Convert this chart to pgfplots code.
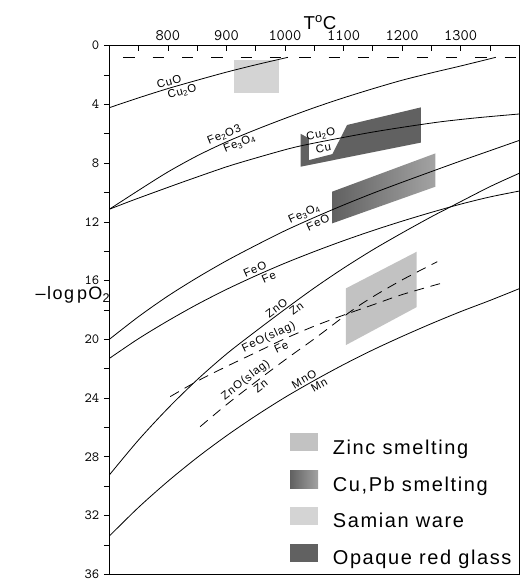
\documentclass[border=0pt]{standalone}
\usepackage{fontspec}
\newfontfamily\lsf[LetterSpace=8]{Liberation Sans}
\usepackage{pgfplots}
\pgfplotsset{compat=1.18}
\newcommand{\labf}{\lsf\fontsize{8.5}{9}\selectfont}
\begin{document}
\begin{tikzpicture}
\useasboundingbox (-82pt,-4.3pt) rectangle (308pt,430.8pt);
\begin{axis}[
  at={(0,0)}, anchor=south west,
  scale only axis, width=307.5pt, height=396.5pt,
  xmin=700, xmax=1400, ymin=0, ymax=36, y dir=reverse,
  clip=false,
  xtick={800,900,...,1300}, minor xtick={750,850,...,1350},
  ytick={0,4,...,36}, minor ytick={2,6,...,34},
  xtick pos=right, xticklabel pos=right,
  ytick pos=left,
  xtick align=inside, ytick align=outside,
  major tick length=4pt, minor tick length=4pt,
  tick style={black, line width=0.5pt},
  /pgf/number format/assume math mode=true,
  /pgf/number format/set thousands separator={},
  xticklabel style={font=\ttfamily\fontsize{12}{14}\selectfont},
  yticklabel style={font=\ttfamily\fontsize{10.5}{12}\selectfont},
  axis line style={line width=0.6pt},
  legend style={at={(axis description cs:0.4407,0.267)}, anchor=north west,
    draw=none, fill=none, font=\lsf\fontsize{15}{18}\selectfont,
    row sep=8.2pt, inner sep=0pt,
    nodes={inner sep=0pt, text height=11pt, text depth=4pt},
    /tikz/every odd column/.append style={column sep=11pt}},
  legend cell align=left,
  legend image code/.code={\draw[#1, draw=none] (0pt,-1.5pt) rectangle (21pt,12pt);},
]
% regions
\addplot[draw=none, fill=black!24] coordinates {(1104,16.53) (1225,14.03) (1225,17.8) (1104,20.39)} -- cycle;
\addlegendentry{Zinc smelting}
\addplot[draw=none, left color=black!62, right color=black!36] coordinates {(1080.6,9.94) (1257,7.33) (1257,9.6) (1080.6,12.1)} -- cycle;
\addlegendentry{Cu,Pb smelting}
\addplot[draw=none, fill=black!17] coordinates {(913,0.95) (989,0.95) (989,3.2) (913,3.2)} -- cycle;
\addlegendentry{Samian ware}
\addplot[draw=none, fill=black!62] coordinates {(1026.5,6.0) (1041,6.3) (1041,7.79) (1081,7.38) (1106,5.4) (1232,4.2) (1232,6.6) (1026.5,8.24)} -- cycle;
\addlegendentry{Opaque red glass}

% reaction lines
\addplot[black, line width=0.6pt, dash pattern=on 8.5pt off 13.5pt, forget plot] coordinates {(724,0.79) (1400,0.79)};
\addplot[black, line width=0.6pt, smooth, forget plot] coordinates {(700,4.22) (750,3.55) (800,2.92) (850,2.35) (900,1.8) (950,1.3) (1005,0.79)};
\addplot[black, line width=0.6pt, smooth, forget plot] coordinates {(700,11.14) (750,9.85) (800,8.6) (850,7.5) (900,6.55) (950,5.72) (1000,4.95) (1050,4.22) (1100,3.55) (1150,2.93) (1200,2.35) (1250,1.85) (1300,1.38) (1360,0.79)};
\addplot[black, line width=0.6pt, smooth, forget plot] coordinates {(700,11.14) (741,10.51) (800,9.65) (835,9.15) (900,8.25) (950,7.65) (1009,6.99) (1050,6.63) (1106,6.2) (1150,5.88) (1200,5.56) (1266,5.18) (1330,4.9) (1400,4.65)};
\addplot[black, line width=0.6pt, smooth, forget plot] coordinates {(700,20.0) (750,18.45) (800,17.05) (850,15.8) (900,14.65) (950,13.6) (1000,12.6) (1050,11.7) (1100,10.85) (1150,10.05) (1200,9.3) (1257,8.47) (1300,7.85) (1350,7.15) (1400,6.45)};
\addplot[black, line width=0.6pt, smooth, forget plot] coordinates {(700,21.3) (750,19.95) (800,18.74) (850,17.62) (900,16.6) (950,15.67) (1000,14.81) (1050,14.02) (1100,13.28) (1150,12.59) (1200,11.95) (1250,11.35) (1300,10.79) (1350,10.3) (1400,9.9)};
\addplot[black, line width=0.6pt, smooth, forget plot] coordinates {(700,29.24) (750,26.85) (800,24.7) (850,22.75) (900,21.0) (950,19.45) (1000,17.95) (1050,16.5) (1100,15.15) (1150,13.9) (1200,12.75) (1250,11.65) (1283,10.97) (1350,9.6) (1400,8.69)};
\addplot[black, line width=0.6pt, smooth, forget plot] coordinates {(700,33.4) (750,31.44) (800,29.67) (850,28.05) (900,26.57) (950,25.21) (1000,23.95) (1050,22.8) (1100,21.72) (1150,20.72) (1200,19.8) (1250,18.93) (1300,18.11) (1350,17.35) (1400,16.55)};
% slag lines
\addplot[black, line width=0.6pt, dash pattern=on 7.5pt off 5pt, smooth, forget plot] coordinates {(804,23.9) (850,22.85) (900,21.85) (950,20.9) (1000,19.95) (1050,19.1) (1100,18.35) (1150,17.65) (1200,16.95) (1266,16.19)};
\addplot[black, line width=0.6pt, dash pattern=on 7.5pt off 5pt, smooth, forget plot] coordinates {(855,25.95) (900,24.45) (950,22.9) (1000,21.4) (1055,19.82) (1112,18.1) (1150,17.1) (1200,15.95) (1260,14.71)};

% line labels
\node[font=\labf, rotate=16, anchor=south, inner sep=1.5pt] at (axis cs:805,2.86) {CuO};
\node[font=\labf, rotate=16, anchor=north, inner sep=1.5pt] at (axis cs:821,2.68) {Cu\textsubscript{2}O};
\node[font=\labf, rotate=22, anchor=south, inner sep=1.5pt] at (axis cs:901,6.53) {Fe\textsubscript{2}O3};
\node[font=\labf, rotate=22, anchor=north, inner sep=1.5pt] at (axis cs:918,6.23) {Fe\textsubscript{3}O\textsubscript{4}};
\node[font=\labf, rotate=11, anchor=south, inner sep=1.5pt] at (axis cs:1063.5,6.53) {Cu\textsubscript{2}O};
\node[font=\labf, rotate=11, anchor=north, inner sep=1.5pt] at (axis cs:1063.5,6.53) {Cu};
\node[font=\labf, rotate=24, anchor=south, inner sep=1.5pt] at (axis cs:1038,11.92) {Fe\textsubscript{3}O\textsubscript{4}};
\node[font=\labf, rotate=24, anchor=north, inner sep=1.5pt] at (axis cs:1052,11.66) {FeO};
\node[font=\labf, rotate=24, anchor=south, inner sep=1.5pt] at (axis cs:953,15.62) {FeO};
\node[font=\labf, rotate=24, anchor=north, inner sep=1.5pt] at (axis cs:968,15.37) {Fe};
\node[font=\labf, rotate=37, anchor=south, inner sep=1.5pt] at (axis cs:992,18.19) {ZnO};
\node[font=\labf, rotate=37, anchor=north, inner sep=1.5pt] at (axis cs:1013,17.57) {Zn};
\node[font=\labf, rotate=25.5, anchor=south, inner sep=1.5pt] at (axis cs:978,20.32) {FeO(slag)};
\node[font=\labf, rotate=25.5, anchor=north, inner sep=1.5pt] at (axis cs:989,20.16) {Fe};
\node[font=\labf, rotate=38, anchor=south, inner sep=1.5pt] at (axis cs:941,23.18) {ZnO(slag)};
\node[font=\labf, rotate=38, anchor=north, inner sep=1.5pt] at (axis cs:952,22.84) {Zn};
\node[font=\labf, rotate=30, anchor=south, inner sep=1.5pt] at (axis cs:1038,23.08) {MnO};
\node[font=\labf, rotate=30, anchor=north, inner sep=1.5pt] at (axis cs:1053,22.73) {Mn};

% titles
\node[font=\lsf\fontsize{14}{16}\selectfont, anchor=base] at ([yshift=12.3pt]axis description cs:0.514,1) {T\textsuperscript{o}C};
\node[font=\lsf\fontsize{13.5}{16}\selectfont, anchor=base west] at (axis description cs:-0.191,0.520) {–log\,pO\textsubscript{2}};
\end{axis}
\end{tikzpicture}
\end{document}
